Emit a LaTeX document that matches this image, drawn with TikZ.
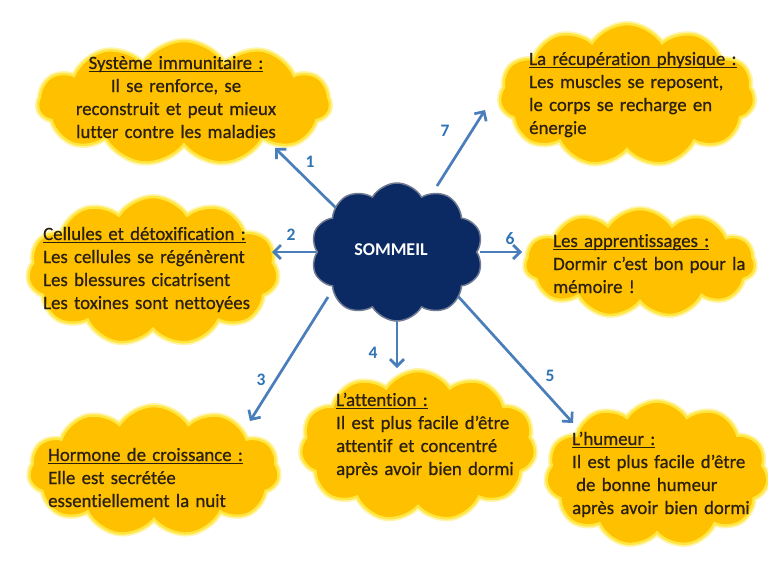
\documentclass[tikz,border=0pt]{standalone}
\usepackage{fontspec}
\setmainfont{Carlito}[Ligatures=NoCommon]
\newfontfamily\heavybody{Carlito}[Ligatures=NoCommon,FakeBold=0.6]
\usetikzlibrary{shapes.symbols,arrows.meta}
\definecolor{cloudfill}{HTML}{FFC000}
\definecolor{cloudglow}{HTML}{FFE640}
\definecolor{navy}{HTML}{0B2A63}
\definecolor{navyedge}{HTML}{6F7B91}
\definecolor{arrowblue}{HTML}{4A7EBB}
\definecolor{numblue}{HTML}{2E74B5}
\definecolor{bodytext}{HTML}{2B2010}
\newcommand\myul[1]{\setbox0\hbox{#1}\rlap{\rule[-3.2pt]{\wd0}{1.1pt}}\box0}
\frenchspacing
\begin{document}
\begin{tikzpicture}[x=1pt,y=-1pt,
  ycloud/.style={cloud, cloud puffs=11, cloud puff arc=115, cloud ignores aspect,
    fill=cloudfill, draw=cloudglow, line width=2.5pt, inner sep=0pt,
    preaction={draw=cloudglow!45!white, line width=6pt}},
  bcloud/.style={cloud, cloud puffs=10, cloud puff arc=120, cloud ignores aspect,
    fill=navy, draw=navyedge, line width=1.5pt, inner sep=0pt},
  body/.style={anchor=base west, align=left, text width=235pt, inner sep=0pt,
    text=bodytext, font=\heavybody\fontsize{18.8}{23}\selectfont\frenchspacing},
  conn/.style={draw=arrowblue, line width=2.7pt, -{Straight Barb[length=7pt,width=14pt]}},
  num/.style={text=numblue, font=\bfseries\fontsize{17.5}{17.5}\selectfont, inner sep=0pt}
]
\useasboundingbox (0,0) rectangle (768,576);
\fill[white] (0,0) rectangle (768,576);

% yellow clouds
\node[ycloud, minimum width=292pt, minimum height=124pt] (c1) at (184,103) {};
\node[ycloud, minimum width=255pt, minimum height=142pt] (c7) at (627,95) {};
\node[ycloud, minimum width=250pt, minimum height=148pt] (c2) at (153,271) {};
\node[ycloud, minimum width=230pt, minimum height=108pt] (c6) at (640,263) {};
\node[ycloud, minimum width=250pt, minimum height=130pt] (c3) at (154,471) {};
\node[ycloud, minimum width=235pt, minimum height=150pt] (c4) at (418,446) {};
\node[ycloud, minimum width=222pt, minimum height=145pt] (c5) at (657,474) {};

% arrow end points
\coordinate (s1) at (336,208); \coordinate (e1) at (275,148);
\coordinate (s7) at (437,186); \coordinate (e7) at (485,110);
\coordinate (s2) at (316,252); \coordinate (e2) at (272,252);
\coordinate (s6) at (480,252); \coordinate (e6) at (522,252);
\coordinate (s3) at (328,297); \coordinate (e3) at (250,421);
\coordinate (s4) at (397,318); \coordinate (e4) at (397,368);
\coordinate (s5) at (456,294); \coordinate (e5) at (573,423);
\draw[conn] (s1) -- (e1);
\draw[conn] (s7) -- (e7);
\draw[conn] (s2) -- (e2);
\draw[conn] (s6) -- (e6);
\draw[conn] (s3) -- (e3);
\draw[conn] (s4) -- (e4);
\draw[conn] (s5) -- (e5);

% central cloud
\node[bcloud, minimum width=172pt, minimum height=138pt] (sommeil) at (397,252) {};
\node[text=white, font=\bfseries\fontsize{18}{18}\selectfont, inner sep=0pt, anchor=base] (stxt) at (391,255) {SOMMEIL};

% texts
\node[body, anchor=base, align=center] (t1) at (176,69) {\myul{Système immunitaire :}\\Il se renforce, se\\reconstruit et peut mieux\\lutter contre les maladies};
\node[body] (t7) at (529,65) {\myul{La récupération physique :}\\Les muscles se reposent,\\le corps se recharge en\\énergie};
\node[body] (t2) at (43,240) {\myul{Cellules et détoxification :}\\Les cellules se régénèrent\\Les blessures cicatrisent\\Les toxines sont nettoyées};
\node[body] (t6) at (553,247) {\myul{Les apprentissages :}\\Dormir c’est bon pour la\\mémoire !};
\node[body] (t3) at (48,461) {\myul{Hormone de croissance :}\\Elle est secrétée\\essentiellement la nuit};
\node[body] (t4) at (336,406) {\myul{L’attention :}\\Il est plus facile d’être\\attentif et concentré\\après avoir bien dormi};
\node[body] (t5) at (572,445) {\myul{L’humeur :}\\Il est plus facile d’être\\\hspace*{4pt}de bonne humeur\\après avoir bien dormi};

% numbers
\node[num] (n1) at (310,162) {1};
\node[num] (n2) at (291,235) {2};
\node[num] (n3) at (261,380) {3};
\node[num] (n4) at (373,353) {4};
\node[num] (n5) at (550,376) {5};
\node[num] (n6) at (510,239) {6};
\node[num] (n7) at (445,131) {7};
\end{tikzpicture}
\end{document}
